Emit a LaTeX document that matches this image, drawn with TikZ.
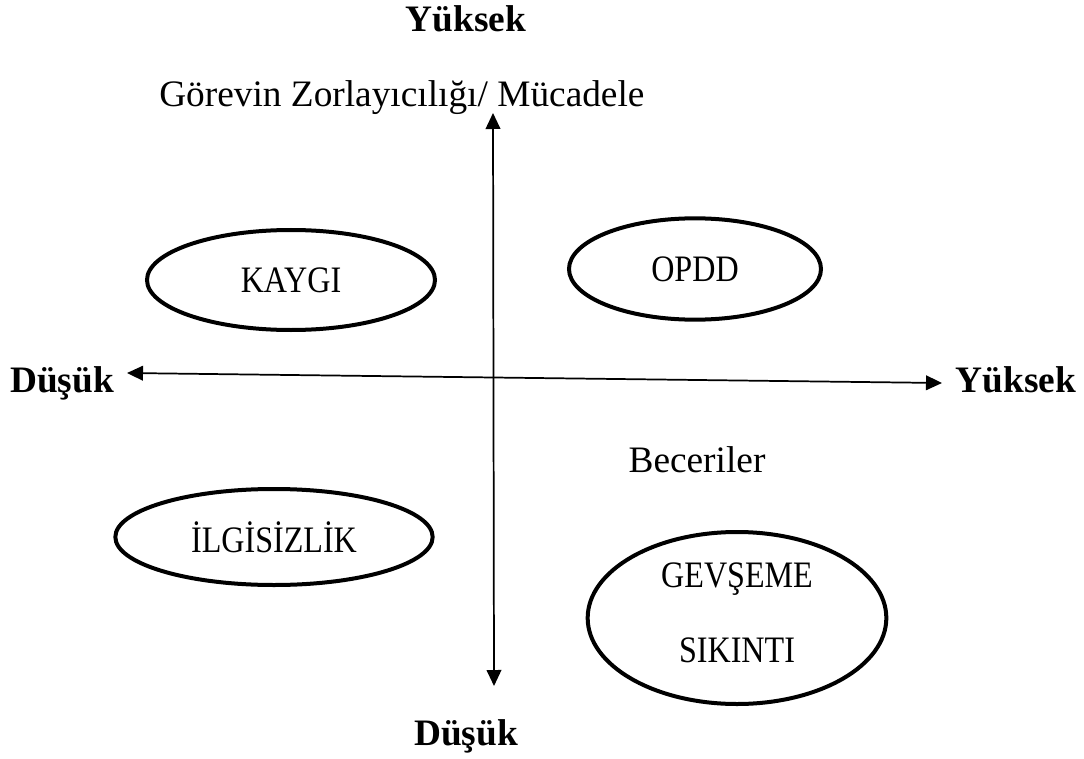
\documentclass[tikz,border=0pt]{standalone}
\usepackage{fontspec}
\setmainfont{Liberation Serif}
\newfontfamily\darfont{Liberation Serif}[FakeStretch=0.86]
\usetikzlibrary{arrows.meta,positioning,shapes.geometric}

\begin{document}
\begin{tikzpicture}[
    x=0.75pt, y=-0.75pt,
    etiket/.style={font=\fontsize{28}{32}\selectfont, inner sep=0pt, anchor=base},
    uc/.style={etiket, font=\fontsize{28}{32}\selectfont\bfseries},
    durum/.style={draw, ellipse, line width=3pt, inner sep=0pt, align=center,
        font=\darfont\fontsize{28}{32}\selectfont},
    eksen/.style={{Triangle[length=12pt,width=11pt]}-{Triangle[length=12pt,width=11pt]},
        line width=1.3pt}
]
    \useasboundingbox (0,0) rectangle (1084,759);

    % eksen uclari
    \coordinate (ust) at (493,113);
    \coordinate (alt) at (494,686);
    \coordinate (sol) at (127,373);
    \coordinate (sag) at (942,383);

    \node[uc] (ustyazi) at (466,32) {Yüksek};
    \node[etiket, anchor=base west] (gorev) at (159,107) {Görevin Zorlayıcılığı/ Mücadele};
    \node[uc] (solyazi) at (62,392) {Düşük};
    \node[uc] (sagyazi) at (1016,392) {Yüksek};
    \node[etiket] (beceri) at (697,472) {Beceriler};
    \node[uc] (altyazi) at (466,745) {Düşük};

    \node[durum, minimum width=216pt, minimum height=75pt] (kaygi) at (291,280) {KAYGI};
    \node[durum, minimum width=189pt, minimum height=76pt] (opdd) at (695,269) {OPDD};
    \node[durum, minimum width=238pt, minimum height=72pt] (ilgi) at (274,537) {İLGİSİZLİK};
    \node[durum, minimum width=224pt, minimum height=129pt] (gevseme) at (737,618) {};
    \node[durum, draw=none] (gevsemeyazi) at ([yshift=4pt]gevseme.center)
        {GEVŞEME\\[24pt]SIKINTI};

    \draw[eksen] (ust) -- (alt);
    \draw[eksen] (sol) -- (sag);
\end{tikzpicture}
\end{document}
